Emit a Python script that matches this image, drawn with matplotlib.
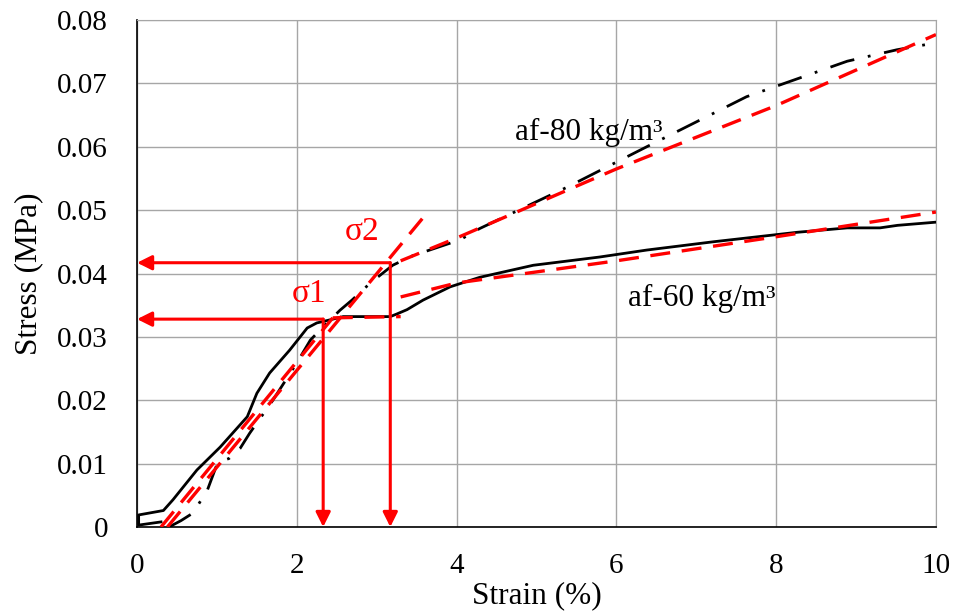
import matplotlib
matplotlib.use("Agg")
from matplotlib import pyplot as plt
import numpy as np

plt.rcParams['font.family'] = ['Liberation Serif', 'DejaVu Serif']

# af-60 measured curve (black solid)
af60_strain = [0.30, 0.02, 0.02, 0.33, 0.45, 0.75, 1.04, 1.38, 1.50, 1.66, 1.91, 2.13, 2.25,
               2.42, 2.58, 3.17, 3.25, 3.38, 3.58, 3.92, 4.29, 4.96, 5.79, 6.38, 7.21,
               7.63, 8.26, 8.89, 9.30, 9.52, 10.0]
af60_stress = [0.0008, 0.0003, 0.0019, 0.0026, 0.0043, 0.0090, 0.0126, 0.0174, 0.0211,
               0.0243, 0.0279, 0.0314, 0.0322, 0.0327, 0.0332, 0.0332, 0.0336, 0.0343,
               0.0358, 0.0379, 0.0394, 0.0413, 0.0426, 0.0437, 0.0450, 0.0456, 0.0465,
               0.0472, 0.0472, 0.0476, 0.0481]

# af-80 measured curve (black dash-dot)
af80_strain = [0.40, 0.55, 0.70, 0.88, 1.01, 1.15, 1.29, 1.41, 1.70, 2.00, 2.17, 2.33,
               2.54, 2.69, 2.92, 3.20, 3.45, 4.04, 4.29, 5.38, 6.38, 7.63, 8.89, 9.51, 10.0]
af80_stress = [0.0, 0.0010, 0.0022, 0.0058, 0.0102, 0.0108, 0.0124, 0.0148, 0.0200,
               0.0259, 0.0295, 0.0316, 0.0342, 0.0358, 0.0385, 0.0413, 0.0428, 0.0453,
               0.0471, 0.0536, 0.0600, 0.0679, 0.0735, 0.0753, 0.0764]

# bilinear fits (red dashed)
fit60_elastic_x = [0.30, 2.45]
fit60_elastic_y = [0.0, 0.0330]
fit60_plateau_x = [2.45, 3.30]
fit60_plateau_y = [0.0330, 0.0332]
fit60_hard_x = [3.30, 4.0, 6.0, 8.0, 10.0]
fit60_hard_y = [0.0363, 0.0385, 0.0420, 0.0458, 0.0497]

fit80_elastic_x = [0.38, 3.58]
fit80_elastic_y = [0.0, 0.0488]
fit80_hard_x = [3.30, 4.0, 6.0, 8.0, 10.0]
fit80_hard_y = [0.0420, 0.0456, 0.0565, 0.0665, 0.0777]

# yield points
sigma1 = (2.33, 0.0328)
sigma2 = (3.17, 0.0417)

fig, ax = plt.subplots(figsize=(9.55, 6.16), dpi=100)
fig.subplots_adjust(left=0.1435, right=0.980, bottom=0.1445, top=0.9675)

red = '#ff0000'
dash_fit = (0, (6, 3.5))
ax.plot(af60_strain, af60_stress, color='black', lw=2.0, zorder=3)
ax.plot(af80_strain, af80_stress, color='black', lw=2.0, zorder=3,
        linestyle=(0, (9, 5, 1, 5)))
for xs, ys in [(fit60_elastic_x, fit60_elastic_y), (fit60_plateau_x, fit60_plateau_y),
               (fit60_hard_x, fit60_hard_y), (fit80_elastic_x, fit80_elastic_y),
               (fit80_hard_x, fit80_hard_y)]:
    ax.plot(xs, ys, color=red, lw=2.4, linestyle=dash_fit, zorder=4)

arrow = dict(arrowstyle='-|>', color=red, lw=2.2, mutation_scale=22, shrinkA=0, shrinkB=0)
for sx, sy in [sigma1, sigma2]:
    ax.annotate('', xy=(0.0, sy), xytext=(sx, sy), arrowprops=arrow, zorder=5)
    ax.annotate('', xy=(sx, 0.0), xytext=(sx, sy), arrowprops=arrow, zorder=5)

ax.text(1.94, 0.0355, 'σ1', color=red, fontsize=24, ha='left', va='baseline')
ax.text(2.60, 0.0453, 'σ2', color=red, fontsize=24, ha='left', va='baseline')
ax.text(4.73, 0.0611, 'af-80 kg/m³', fontsize=22.5, ha='left', va='baseline')
ax.text(6.15, 0.0349, 'af-60 kg/m³', fontsize=22.5, ha='left', va='baseline')

ax.set_xlim(0, 10)
ax.set_ylim(0, 0.08)
ax.set_xticks(np.arange(0, 11, 2))
ax.set_yticks(np.arange(0, 0.081, 0.01))
ax.set_yticklabels(['0', '0.01', '0.02', '0.03', '0.04', '0.05', '0.06', '0.07', '0.08'])
ax.tick_params(labelsize=21, length=0)
ax.tick_params(axis='x', pad=19)
ax.tick_params(axis='y', pad=21)
ax.set_xlabel('Strain (%)', fontsize=22.5, labelpad=1)
ax.set_ylabel('Stress (MPa)', fontsize=22.5, labelpad=10)
ax.grid(True, color='#a6a6a6', lw=1.0)
ax.set_axisbelow(True)
for side in ['top', 'right']:
    ax.spines[side].set_color('#a6a6a6')
for side in ['left', 'bottom']:
    ax.spines[side].set_color('black')
    ax.spines[side].set_linewidth(1.2)

plt.savefig('out.png', dpi=100)
